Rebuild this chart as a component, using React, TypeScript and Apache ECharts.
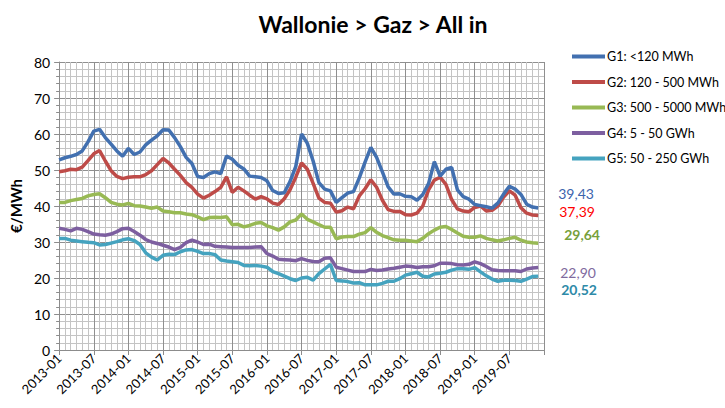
import React, { useEffect, useRef } from "react";
import * as echarts from "echarts";

const years = [2013, 2014, 2015, 2016, 2017, 2018, 2019, 2020];
const monthNames = ["01", "02", "03", "04", "05", "06", "07", "08", "09", "10", "11", "12"];
const categories: string[] = [];
years.forEach((y) => monthNames.forEach((m) => categories.push(`${y}-${m}`)));
const axisCategories = categories.slice(0, 85); // 2013-01 .. 2020-01

const g1 = [52.8, 53.4, 53.8, 54.3, 55.3, 57.8, 60.8, 61.3, 59.0, 57.2, 55.3, 53.8,
  56.0, 54.3, 55.0, 57.0, 58.3, 59.5, 61.2, 61.1, 59.0, 56.5, 53.5, 51.8,
  48.2, 47.9, 49.0, 49.5, 49.0, 53.9, 53.0, 51.3, 50.3, 48.3, 48.1, 47.9,
  47.0, 44.3, 43.5, 43.7, 46.8, 51.0, 60.0, 57.4, 52.5, 46.5, 44.7, 44.2,
  41.0, 42.3, 43.6, 44.0, 47.8, 52.2, 56.3, 53.5, 49.5, 45.3, 43.3, 43.4,
  42.7, 42.6, 41.6, 43.2, 46.2, 52.3, 48.3, 50.2, 50.7, 44.5, 42.6, 41.9,
  40.4, 40.1, 39.8, 39.4, 40.8, 43.3, 45.5, 44.7, 43.2, 40.5, 39.7, 39.43];
const g2 = [49.5, 49.8, 50.2, 50.1, 50.8, 52.6, 54.5, 55.4, 52.5, 49.8, 48.2, 47.6,
  48.0, 48.1, 48.1, 48.7, 49.8, 51.5, 53.2, 52.0, 50.2, 48.5, 46.5, 45.2,
  43.3, 42.2, 43.0, 44.0, 45.2, 48.1, 43.8, 45.2, 44.2, 43.0, 41.9, 42.6,
  42.0, 40.8, 40.4, 42.0, 44.5, 48.0, 52.0, 50.2, 46.3, 42.2, 41.0, 40.8,
  38.3, 38.7, 39.7, 39.2, 42.8, 44.8, 47.3, 45.2, 41.6, 39.0, 38.5, 38.5,
  37.6, 37.5, 38.0, 40.0, 44.5, 47.2, 48.0, 46.0, 41.8, 39.2, 38.6, 38.4,
  39.6, 40.0, 38.6, 38.8, 40.0, 42.5, 44.2, 43.0, 39.5, 38.0, 37.5, 37.39];
const g3 = [41.0, 41.0, 41.5, 41.8, 42.1, 42.8, 43.2, 43.4, 42.3, 41.0, 40.5, 40.3,
  40.7, 40.1, 40.0, 39.7, 39.4, 39.7, 38.6, 38.4, 38.1, 38.1, 37.8, 37.6,
  37.0, 36.2, 36.8, 36.9, 36.8, 37.0, 34.8, 34.9, 34.2, 34.6, 35.2, 35.4,
  34.5, 34.0, 33.3, 34.2, 35.6, 36.1, 37.8, 36.3, 35.6, 34.8, 34.1, 34.1,
  30.9, 31.4, 31.5, 31.5, 32.2, 32.6, 34.0, 32.7, 31.8, 31.2, 30.6, 30.5,
  30.5, 30.3, 30.1, 31.0, 32.3, 33.3, 34.1, 34.3, 33.5, 32.5, 31.6, 31.3,
  31.3, 31.7, 31.0, 30.6, 30.3, 30.6, 31.0, 31.3, 30.5, 30.0, 29.8, 29.64];
const g4 = [33.8, 33.5, 33.1, 33.8, 33.5, 32.9, 32.2, 32.0, 31.9, 32.2, 32.9, 33.7,
  33.8, 32.9, 31.9, 30.7, 30.0, 29.6, 29.1, 28.6, 27.9, 28.5, 29.8, 30.5,
  30.0, 29.3, 29.4, 28.8, 28.7, 28.6, 28.5, 28.5, 28.5, 28.5, 28.6, 28.7,
  26.8, 26.1, 25.2, 25.1, 25.0, 24.8, 25.4, 24.9, 24.6, 24.5, 25.5, 25.6,
  23.0, 22.6, 22.2, 21.8, 21.8, 21.8, 22.4, 22.1, 22.2, 22.5, 22.7, 23.0,
  23.3, 23.2, 22.9, 23.1, 23.1, 23.4, 24.1, 24.1, 24.0, 23.7, 23.6, 23.8,
  24.5, 24.0, 23.2, 22.3, 22.1, 22.0, 22.0, 22.0, 21.8, 22.5, 22.8, 22.90];
const g5 = [31.0, 31.0, 30.5, 30.3, 30.1, 29.9, 29.8, 29.2, 29.3, 29.7, 30.1, 30.6,
  30.9, 30.4, 29.3, 27.0, 25.8, 25.0, 26.3, 26.6, 26.5, 27.3, 27.8, 27.9,
  27.4, 26.8, 26.8, 26.5, 25.0, 24.7, 24.5, 24.3, 23.5, 23.4, 23.5, 23.3,
  23.0, 21.8, 21.2, 20.5, 19.8, 19.3, 20.0, 20.2, 19.4, 21.2, 22.5, 23.8,
  19.3, 19.2, 19.0, 18.6, 18.7, 18.1, 18.1, 18.1, 18.5, 19.1, 19.1, 19.8,
  20.8, 21.2, 21.6, 20.5, 20.3, 21.1, 21.3, 21.6, 22.2, 22.6, 22.6, 22.4,
  22.9, 21.7, 20.6, 19.7, 19.1, 19.4, 19.4, 19.3, 19.1, 19.7, 20.4, 20.52];

const seriesNames = ["G1: <120 MWh", "G2: 120 - 500 MWh", "G3: 500 - 5000 MWh", "G4: 5 - 50 GWh", "G5: 50 - 250 GWh"];
const seriesData = [g1, g2, g3, g4, g5];
const lineColors = ["#4270b0", "#be4b48", "#98b954", "#7d5fa0", "#45a3bf"];
const labelColors = ["#3b64ad", "#ff0000", "#77a03b", "#7f6a9e", "#2e8aa8"];
const labelBold = [false, false, true, false, true];
const labelOffsets = [[12, -15], [13, -4], [18, -9], [14, 5], [15, 13]];

const FONT = "Lato";

export default function App() {
  const ref = useRef<HTMLDivElement>(null);
  useEffect(() => {
    if (!ref.current) return;
    const chart = echarts.init(ref.current, undefined, { renderer: "svg" });
    const series: any[] = seriesData.map((d, i) => ({
      name: seriesNames[i],
      type: "line",
      data: d,
      showSymbol: false,
      symbol: "none",
      xAxisIndex: 0,
      lineStyle: { color: lineColors[i], width: 3.5 },
      itemStyle: { color: lineColors[i] },
      z: 10 - i,
      endLabel: {
        show: true,
        formatter: (p: any) => Number(p.value).toFixed(2).replace(".", ","),
        color: labelColors[i],
        fontFamily: FONT,
        fontSize: 14,
        fontWeight: labelBold[i] ? "bold" : "normal",
        offset: labelOffsets[i],
      },
    }));
    chart.setOption({
      animation: false,
      backgroundColor: "#ffffff",
      title: {
        text: "Wallonie > Gaz > All in",
        left: 368,
        top: 7,
        textAlign: "center",
        textStyle: { fontFamily: FONT, fontSize: 23, fontWeight: "bold", color: "#000" },
      },
      legend: {
        orient: "vertical",
        left: 567,
        top: 45,
        icon: "rect",
        itemWidth: 33,
        itemHeight: 4,
        itemGap: 12.5,
        textStyle: { fontFamily: FONT, fontSize: 12.5, color: "#000", padding: [0, 0, 0, -3] },
        data: seriesNames,
      },
      grid: { left: 59, right: 181, top: 62, bottom: 58, containLabel: false },
      xAxis: [
        {
          type: "category",
          data: axisCategories,
          boundaryGap: false,
          axisLine: { show: true, lineStyle: { color: "#8c8c8c", width: 1 } },
          axisTick: {
            show: true,
            length: 5,
            interval: (idx: number) => idx % 6 === 0,
            lineStyle: { color: "#8c8c8c" },
          },
          axisLabel: {
            interval: (idx: number) => idx % 6 === 0 && idx < 84,
            rotate: 45,
            fontFamily: FONT,
            fontSize: 13,
            color: "#000",
            margin: 6,
          },
          splitLine: { show: true, interval: 0, lineStyle: { color: "#c4c4c4", width: 1 } },
        },
        {
          type: "category",
          data: axisCategories,
          boundaryGap: false,
          position: "bottom",
          axisLine: { show: false },
          axisTick: { show: false },
          axisLabel: { show: false },
          splitLine: { show: true, interval: 5, lineStyle: { color: "#8f8f8f", width: 1 } },
        },
      ],
      yAxis: {
        type: "value",
        min: 0,
        max: 80,
        interval: 10,
        name: "€/MWh",
        nameLocation: "middle",
        nameGap: 36,
        nameRotate: 90,
        nameTextStyle: { fontFamily: FONT, fontSize: 15, fontWeight: "bold", color: "#000" },
        axisLine: { show: true, lineStyle: { color: "#8c8c8c" } },
        axisTick: { show: true, length: 5, lineStyle: { color: "#8c8c8c" } },
        minorTick: { show: true, splitNumber: 5, length: 3, lineStyle: { color: "#8c8c8c" } },
        axisLabel: { fontFamily: FONT, fontSize: 14, color: "#000", margin: 9 },
        splitLine: { show: true, lineStyle: { color: "#8f8f8f", width: 1 } },
        minorSplitLine: { show: true, lineStyle: { color: "#c4c4c4", width: 1 } },
      },
      series,
    });
    return () => chart.dispose();
  }, []);
  return (
    <div
      ref={ref}
      style={{ position: "fixed", left: 0, top: 0, width: 725, height: 408, background: "#fff" }}
    />
  );
}
